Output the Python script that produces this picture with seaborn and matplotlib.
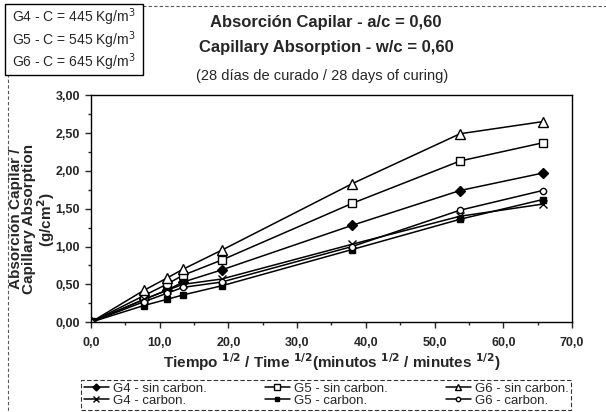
import matplotlib
matplotlib.use("Agg")
import matplotlib.pyplot as plt
from matplotlib.patches import Rectangle
from matplotlib.ticker import MultipleLocator, FuncFormatter
import seaborn as sns
import pandas as pd

sns.set_style("ticks")
plt.rcParams['font.family'] = ['Liberation Sans', 'DejaVu Sans']

x_vals = [0.0, 7.7, 11.0, 13.4, 19.0, 38.0, 53.7, 65.7]
g4_sin = [0.0, 0.30, 0.42, 0.53, 0.69, 1.28, 1.74, 1.97]
g5_sin = [0.0, 0.35, 0.50, 0.62, 0.82, 1.57, 2.13, 2.37]
g6_sin = [0.0, 0.42, 0.58, 0.70, 0.95, 1.83, 2.49, 2.65]
g4_carb = [0.0, 0.30, 0.42, 0.50, 0.57, 1.03, 1.40, 1.56]
g5_carb = [0.0, 0.22, 0.30, 0.36, 0.48, 0.96, 1.36, 1.62]
g6_carb = [0.0, 0.27, 0.38, 0.46, 0.53, 1.00, 1.48, 1.74]

labels = ["G4 - sin carbon.", "G5 - sin carbon.", "G6 - sin carbon.",
          "G4 - carbon.", "G5 - carbon.", "G6 - carbon."]
series = [g4_sin, g5_sin, g6_sin, g4_carb, g5_carb, g6_carb]
styles = {
    "G4 - sin carbon.": dict(marker="D", mfc="black", ms=5),
    "G5 - sin carbon.": dict(marker="s", mfc="white", ms=6),
    "G6 - sin carbon.": dict(marker="^", mfc="white", ms=7),
    "G4 - carbon.": dict(marker="x", mfc="black", ms=6),
    "G5 - carbon.": dict(marker="s", mfc="black", ms=4.5),
    "G6 - carbon.": dict(marker="o", mfc="white", ms=4.5),
}

df = pd.DataFrame([(lab, x, y) for lab, ys in zip(labels, series) for x, y in zip(x_vals, ys)],
                  columns=["serie", "t", "abs"])

fig = plt.figure(figsize=(6.06, 4.12), dpi=100)
ax = fig.add_axes([0.150, 0.218, 0.794, 0.551])

for lab in labels:
    st = styles[lab]
    sns.lineplot(data=df[df.serie == lab], x="t", y="abs", ax=ax, color="black",
                 linewidth=1.1, marker=st["marker"], markersize=st["ms"],
                 markerfacecolor=st["mfc"], markeredgecolor="black",
                 markeredgewidth=1.0, label=lab)

ax.set_xlim(0, 70)
ax.set_ylim(0, 3.0)
ax.xaxis.set_major_locator(MultipleLocator(10))
ax.xaxis.set_minor_locator(MultipleLocator(5))
ax.yaxis.set_major_locator(MultipleLocator(0.5))
ax.yaxis.set_minor_locator(MultipleLocator(0.25))
ax.xaxis.set_major_formatter(FuncFormatter(lambda v, p: f"{v:.1f}".replace(".", ",")))
ax.yaxis.set_major_formatter(FuncFormatter(lambda v, p: f"{v:.2f}".replace(".", ",")))
ax.tick_params(axis="both", which="major", direction="out", length=4, width=1,
               labelsize=9, pad=4)
ax.tick_params(axis="x", which="major", pad=7)
ax.tick_params(axis="both", which="minor", direction="out", length=2, width=1)
for t in ax.get_xticklabels() + ax.get_yticklabels():
    t.set_fontweight("bold")
for sp in ax.spines.values():
    sp.set_visible(True)
    sp.set_linewidth(1.0)
    sp.set_color("black")

ax.set_xlabel(r"Tiempo $^{\mathbf{1/2}}$ / Time $^{\mathbf{1/2}}$(minutos $^{\mathbf{1/2}}$ / minutes $^{\mathbf{1/2}}$)",
              fontsize=11, fontweight="bold", labelpad=1)
ax.set_ylabel("Absorción Capilar /\nCapillary Absorption\n" + r"(g/cm$^{\mathbf{2}}$)",
              fontsize=11, fontweight="bold", linespacing=0.95)
ax.yaxis.set_label_coords(-0.07, 0.454)

h, l = ax.get_legend_handles_labels()
order = [0, 3, 1, 4, 2, 5]
leg = ax.legend([h[i] for i in order], [l[i] for i in order], ncol=3,
                loc="upper left", bbox_to_anchor=(81 / 606, 1 - 380 / 412, 490 / 606, 0),
                bbox_transform=fig.transFigure, mode="expand",
                frameon=True, fancybox=False, fontsize=9.5, handlelength=1.9,
                handletextpad=0.3, columnspacing=1.5, borderpad=0.2,
                labelspacing=0.0, edgecolor="black", markerscale=0.7,
                borderaxespad=0)
leg.get_frame().set_linestyle((0, (4, 2)))
leg.get_frame().set_linewidth(0.8)

fig.text(0.538, 0.945, "Absorción Capilar - a/c = 0,60", ha="center", va="center",
         fontsize=12, fontweight="bold")
fig.text(0.538, 0.885, "Capillary Absorption - w/c = 0,60", ha="center", va="center",
         fontsize=12, fontweight="bold")
fig.text(0.532, 0.815, "(28 días de curado / 28 days of curing)", ha="center", va="center",
         fontsize=10.5)

fig.patches.append(Rectangle((0.014, -0.02), 1.0, 1.006, transform=fig.transFigure,
                             fill=False, edgecolor="0.35", linewidth=0.8, linestyle=(0, (3, 2)),
                             zorder=0))
fig.patches.append(Rectangle((0.008, 0.818), 0.228, 0.172, transform=fig.transFigure,
                             facecolor="white", edgecolor="black", linewidth=1.0, zorder=1))
for i, c in enumerate(["445", "545", "645"]):
    fig.text(0.020, 0.958 - i * 0.055, f"G{4+i} - C = {c} Kg/m$^3$", ha="left", va="center",
             fontsize=10, zorder=2)

fig.savefig("out.png", dpi=100)
